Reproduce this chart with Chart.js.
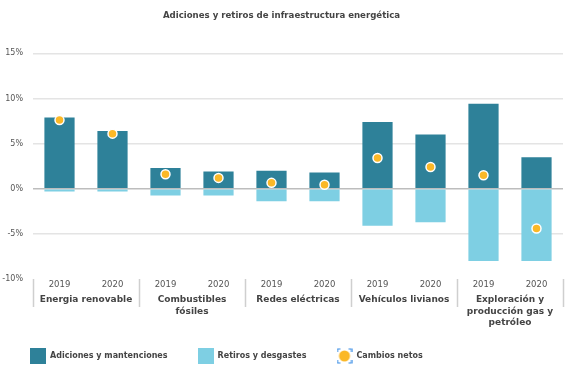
<!DOCTYPE html>
<html>
<head>
<meta charset="utf-8">
<script src="https://cdn.jsdelivr.net/npm/chart.js@4"></script>
<style>
  html, body { margin: 0; padding: 0; background: #fff; }
  #wrap { width: 581px; height: 372px; }
</style>
</head>
<body>
<div id="wrap"><canvas id="grafico"></canvas></div>
<script>
// Datos (porcentajes)
const anios = ['2019', '2020', '2019', '2020', '2019', '2020', '2019', '2020', '2019', '2020'];
const grupos = ['Energia renovable', ['Combustibles', 'fósiles'], 'Redes eléctricas', 'Vehículos livianos', ['Exploración y', 'producción gas y', 'petróleo']];
const adiciones = [7.9, 6.4, 2.3, 1.9, 2.0, 1.8, 7.4, 6.0, 9.4, 3.5];
const retiros = [-0.3, -0.3, -0.75, -0.75, -1.4, -1.4, -4.1, -3.7, -8.0, -8.0];
const netos = [7.6, 6.1, 1.6, 1.2, 0.65, 0.45, 3.4, 2.4, 1.5, -4.4];
const ticksY = [-10, -5, 0, 5, 10, 15];

const azulOscuro = '#2e8199';
const azulClaro = '#7ecfe3';
const naranja = '#fbb827';

// Iconos de la leyenda dibujados en pequeños canvas
function icono(tipo, color) {
    const c = document.createElement('canvas');
    c.width = 16; c.height = 16;
    const g = c.getContext('2d');
    if (tipo === 'rect') {
        g.fillStyle = color;
        g.fillRect(0, 0, 16, 16);
    } else {
        g.fillStyle = color;
        g.beginPath();
        g.arc(8, 8, 5.5, 0, Math.PI * 2);
        g.fill();
        // marcas de esquina azules
        g.strokeStyle = '#3a8ee6';
        g.lineWidth = 1.2;
        [[1, 1, 1, 1], [15, 1, -1, 1], [1, 15, 1, -1], [15, 15, -1, -1]].forEach(([x, y, dx, dy]) => {
            g.beginPath();
            g.moveTo(x + 3 * dx, y);
            g.lineTo(x, y);
            g.lineTo(x, y + 3 * dy);
            g.stroke();
        });
    }
    return c;
}

// Separadores verticales entre grupos en el eje x
const separadores = {
    id: 'separadores',
    afterLayout(chart) {
        // dejar espacio para la etiqueta de tres líneas (evita el recorte)
        chart.scales.x2.bottom = chart.scales.x2.top + 45;
    },
    afterDraw(chart) {
        const x = chart.scales.x;
        const area = chart.chartArea;
        const ctx = chart.ctx;
        const pos = [area.left];
        for (let i = 2; i < anios.length; i += 2) {
            pos.push((x.getPixelForValue(i - 1) + x.getPixelForValue(i)) / 2);
        }
        pos.push(area.right);
        ctx.save();
        ctx.strokeStyle = '#cfcfcf';
        ctx.lineWidth = 1.5;
        pos.forEach(px => {
            ctx.beginPath();
            ctx.moveTo(Math.round(px) + 0.5, area.bottom);
            ctx.lineTo(Math.round(px) + 0.5, area.bottom + 28);
            ctx.stroke();
        });
        ctx.restore();
    }
};

const ctx = document.getElementById('grafico').getContext('2d');
const grafico = new Chart(ctx, {
    data: {
        labels: anios,
        datasets: [
            {
                type: 'bar',
                label: 'Adiciones y mantenciones',
                data: adiciones,
                backgroundColor: azulOscuro,
                barPercentage: 0.57,
                categoryPercentage: 1,
                stack: 'barras',
                order: 1,
                pointStyle: icono('rect', azulOscuro)
            },
            {
                type: 'bar',
                label: 'Retiros y desgastes',
                data: retiros,
                backgroundColor: azulClaro,
                barPercentage: 0.57,
                categoryPercentage: 1,
                stack: 'barras',
                order: 1,
                pointStyle: icono('rect', azulClaro)
            },
            {
                type: 'line',
                label: 'Cambios netos',
                data: netos,
                showLine: false,
                stack: 'netos',
                order: 0,
                pointRadius: 4.5,
                pointBackgroundColor: naranja,
                pointBorderColor: '#ffffff',
                pointBorderWidth: 1.5,
                pointStyle: 'circle',
                legendIcon: icono('circle', naranja)
            }
        ]
    },
    options: {
        responsive: true,
        maintainAspectRatio: false,
        animation: false,
        layout: { padding: { left: 0, right: 18, top: 0, bottom: 2 } },
        plugins: {
            title: {
                display: true,
                text: 'Adiciones y retiros de infraestructura energética',
                color: '#444',
                font: { family: 'DejaVu Sans', size: 8.6, weight: 'bold' },
                padding: { top: 11, bottom: 32 }
            },
            legend: {
                position: 'bottom',
                align: 'start',
                maxHeight: 54,
                labels: {
                    usePointStyle: true,
                    pointStyleWidth: 16,
                    padding: 30,
                    color: '#444',
                    font: { family: 'DejaVu Sans', size: 8, weight: 'bold' },
                    sort: (a, b) => a.datasetIndex - b.datasetIndex,
                    generateLabels(chart) {
                        const base = Chart.defaults.plugins.legend.labels.generateLabels(chart);
                        base.forEach(item => {
                            const ds = chart.data.datasets[item.datasetIndex];
                            item.pointStyle = ds.legendIcon || ds.pointStyle;
                        });
                        return base;
                    }
                }
            },
            tooltip: { enabled: false }
        },
        scales: {
            y: {
                stacked: true,
                min: -10,
                max: 15,
                afterBuildTicks(scale) {
                    scale.ticks = ticksY.map(v => ({ value: v }));
                },
                afterFit(scale) { scale.width = 33; },
                border: { display: false },
                grid: {
                    drawTicks: false,
                    lineWidth: 1.5,
                    color: c => c.tick.value === 0 ? '#bdbdbd' : (c.tick.value === -10 ? 'rgba(0,0,0,0)' : '#e4e4e4')
                },
                ticks: {
                    padding: 10,
                    color: '#555',
                    font: { family: 'DejaVu Sans', size: 8 },
                    callback: v => v + '%'
                }
            },
            x: {
                stacked: true,
                afterFit(scale) { scale.height = 14; },
                border: { display: false },
                grid: { display: false, drawTicks: false },
                ticks: {
                    padding: 1,
                    color: '#555',
                    font: { family: 'DejaVu Sans', size: 8.5 }
                }
            },
            x2: {
                type: 'category',
                position: 'bottom',
                labels: grupos,
                offset: true,
                afterFit(scale) {
                    scale.height = 29;
                    scale.paddingLeft = 0;
                    scale.paddingRight = 0;
                },
                border: { display: false },
                grid: { display: false, drawTicks: false },
                ticks: {
                    padding: 1,
                    color: '#444',
                    autoSkip: false,
                    maxRotation: 0,
                    font: { family: 'DejaVu Sans', size: 9, weight: 'bold', lineHeight: 1.28 }
                }
            }
        }
    },
    plugins: [separadores]
});
</script>
</body>
</html>
